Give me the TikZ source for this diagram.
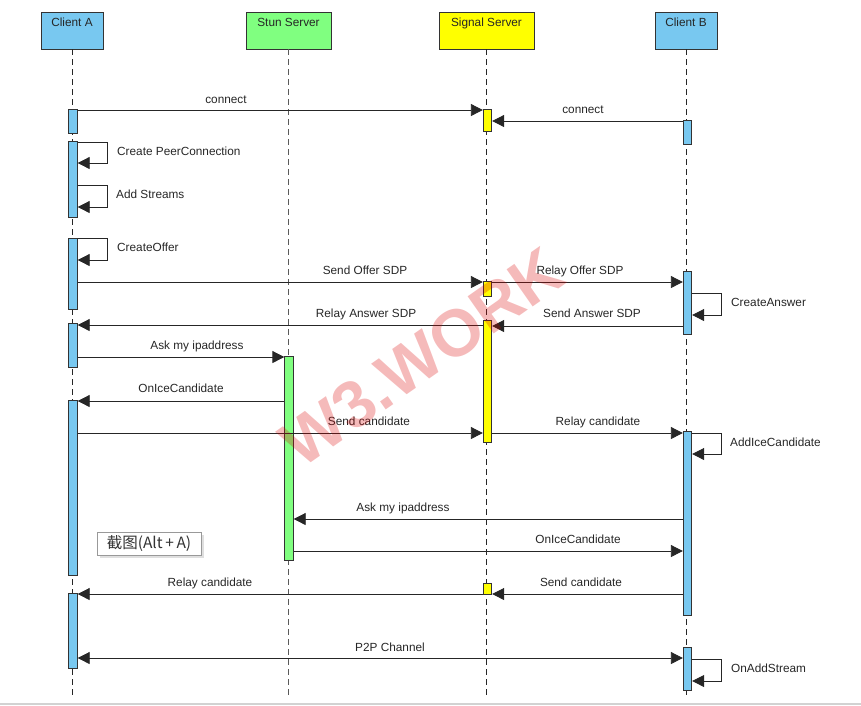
\documentclass[tikz,border=0pt]{standalone}
\usepackage{fontspec}
\setmainfont{Liberation Sans}
\newfontfamily\cjkfont{Noto Sans CJK SC}
\usetikzlibrary{arrows.meta,shadows}
\definecolor{cblue}{HTML}{78C8F0}
\definecolor{cgreen}{HTML}{80FF80}
\definecolor{cyellow}{HTML}{FFFF00}
\begin{document}
\begin{tikzpicture}[x=1pt,y=-1pt,
  hdr/.style={draw=black!80, line width=0.8pt, inner sep=0, minimum height=37pt},
  hlbl/.style={anchor=base, inner sep=0, font=\fontsize{11.8}{14}\selectfont, text=black!85},
  actbar/.style={draw=black!80, line width=0.8pt, inner sep=0, minimum width=8.5pt},
  life/.style={dash pattern=on 6pt off 4pt, black!85, line width=0.8pt},
  msg/.style={-{Triangle[length=12pt,width=12pt]}, line width=0.8pt, black!85},
  dmsg/.style={{Triangle[length=12pt,width=12pt]}-{Triangle[length=12pt,width=12pt]}, line width=0.8pt, black!85},
  lbl/.style={anchor=base, inner sep=0, font=\fontsize{11.8}{14}\selectfont, text=black!85},
  slbl/.style={anchor=base west, inner sep=0, font=\fontsize{11.8}{14}\selectfont, text=black!85}]
\useasboundingbox (0,0) rectangle (861,705);

% headers
\node[hdr, fill=cblue, minimum width=62pt] (hA) at (72,30.5) {};
\node[hdr, fill=cgreen, minimum width=85pt] (hT) at (288.5,30.5) {};
\node[hdr, fill=cyellow, minimum width=95pt] (hS) at (486.5,30.5) {};
\node[hdr, fill=cblue, minimum width=62pt] (hB) at (686,30.5) {};
\node[hlbl] (tA) at (72,26.5) {Client A};
\node[hlbl] (tT) at (288.5,26.5) {Stun Server};
\node[hlbl] (tS) at (486.5,26.5) {Signal Server};
\node[hlbl] (tB) at (686,26.5) {Client B};

% lifelines
\coordinate (eA) at (72,697);
\coordinate (eT) at (288.5,697);
\coordinate (eS) at (486.5,697);
\coordinate (eB) at (686,697);
\draw[life] (hA.south) -- (eA);
\draw[life, black!65, line width=1.1pt] (hT.south) -- (eT);
\draw[life] (hS.south) -- (eS);
\draw[life] (hB.south) -- (eB);

% activation bars
\node[actbar, fill=cblue, minimum height=24pt] (A1) at (73,121) {};
\node[actbar, fill=cblue, minimum height=76pt] (A2) at (73,179) {};
\node[actbar, fill=cblue, minimum height=71pt] (A3) at (73,273.5) {};
\node[actbar, fill=cblue, minimum height=44pt] (A4) at (73,345) {};
\node[actbar, fill=cblue, minimum height=175pt] (A5) at (73,487.5) {};
\node[actbar, fill=cblue, minimum height=75pt] (A6) at (73,630.5) {};
\node[actbar, fill=cyellow, minimum height=22pt] (S1) at (487.5,120) {};
\node[actbar, fill=cyellow, minimum height=15pt] (S2) at (487.5,288.5) {};
\node[actbar, fill=cyellow, minimum height=122pt] (S3) at (487.5,381) {};
\node[actbar, fill=cyellow, minimum height=11pt] (S4) at (487.5,588.5) {};
\node[actbar, fill=cgreen, minimum height=204pt] (T1) at (289,458) {};
\node[actbar, fill=cblue, minimum height=24pt] (B1) at (687.5,132) {};
\node[actbar, fill=cblue, minimum height=63pt] (B2) at (687.5,302.5) {};
\node[actbar, fill=cblue, minimum height=184pt] (B3) at (687.5,523) {};
\node[actbar, fill=cblue, minimum height=43pt] (B4) at (687.5,668.5) {};

% messages
\draw[msg] (A1.east |- 0,110) -- (S1.west |- 0,110);
\node[lbl] (m1) at (226,103) {connect};
\draw[msg] (B1.west |- 0,121) -- (S1.east |- 0,121);
\node[lbl] (m2) at (583,113.5) {connect};

\draw[msg] (A2.east |- 0,142) -- (107,142) -- (107,163) -- (A2.east |- 0,163);
\node[slbl] (m3) at (117,155.5) {Create PeerConnection};
\draw[msg] (A2.east |- 0,185) -- (107,185) -- (107,207) -- (A2.east |- 0,207);
\node[slbl] (m4) at (116,198.5) {Add Streams};
\draw[msg] (A3.east |- 0,238) -- (107,238) -- (107,260) -- (A3.east |- 0,260);
\node[slbl] (m5) at (117,251.5) {CreateOffer};

\draw[msg] (A3.east |- 0,282) -- (S2.west |- 0,282);
\node[lbl] (m6) at (365,274.5) {Send Offer SDP};
\draw[msg] (S2.east |- 0,282) -- (B2.west |- 0,282);
\node[lbl] (m7) at (580,274.5) {Relay Offer SDP};
\draw[msg] (B2.east |- 0,293) -- (721,293) -- (721,315) -- (B2.east |- 0,315);
\node[slbl] (m8) at (731,306.5) {CreateAnswer};
\draw[msg] (B2.west |- 0,326) -- (S3.east |- 0,326);
\node[lbl] (m9) at (592,317.5) {Send Answer SDP};
\draw[msg] (S3.west |- 0,325) -- (A4.east |- 0,325);
\node[lbl] (m10) at (366,317.5) {Relay Answer SDP};

\draw[msg] (A4.east |- 0,357) -- (T1.west |- 0,357);
\node[lbl] (m11) at (197,349.5) {Ask my ipaddress};
\draw[msg] (T1.west |- 0,401) -- (A5.east |- 0,401);
\node[lbl] (m12) at (181,392.5) {OnIceCandidate};
\draw[msg] (A5.east |- 0,433) -- (S3.west |- 0,433);
\node[lbl] (m13) at (369,425.5) {Send candidate};
\draw[msg] (S3.east |- 0,433) -- (B3.west |- 0,433);
\node[lbl] (m14) at (598,425.5) {Relay candidate};
\draw[msg] (B3.east |- 0,433) -- (721,433) -- (721,454) -- (B3.east |- 0,454);
\node[slbl] (m15) at (730,446.5) {AddIceCandidate};

\draw[msg] (B3.west |- 0,519) -- (T1.east |- 0,519);
\node[lbl] (m16) at (403,511.5) {Ask my ipaddress};
\draw[msg] (T1.east |- 0,551) -- (B3.west |- 0,551);
\node[lbl] (m17) at (578,543.5) {OnIceCandidate};
\draw[msg] (B3.west |- 0,594) -- (S4.east |- 0,594);
\node[lbl] (m18) at (581,586.5) {Send candidate};
\draw[msg] (S4.west |- 0,594) -- (A6.east |- 0,594);
\node[lbl] (m19) at (210,586.5) {Relay candidate};

\draw[dmsg] (A6.east |- 0,658) -- (B4.west |- 0,658);
\node[lbl] (m20) at (390,651) {P2P Channel};
\draw[msg] (B4.east |- 0,659) -- (721,659) -- (721,681) -- (B4.east |- 0,681);
\node[slbl] (m21) at (731,672.5) {OnAddStream};

% tooltip
\node[draw=gray!80, fill=white, drop shadow={opacity=0.25, shadow xshift=2.5pt, shadow yshift=-2.5pt},
  minimum width=104pt, minimum height=23pt, inner sep=0,
  font=\cjkfont\fontsize{15.5}{17}\selectfont, text=black!80] (tip) at (149,543.5) {截图(Alt\,+\,A)};

% bottom border
\coordinate (bl) at (0,704);
\coordinate (br) at (861,704);
\draw[gray!35, line width=1.5pt] (bl) -- (br);

% watermark
\node[rotate=35, font=\bfseries\fontsize{66}{70}\selectfont, text=red!85!black, opacity=0.27, inner sep=0] (wm) at (422,357) {W3.WORK};
\end{tikzpicture}
\end{document}
